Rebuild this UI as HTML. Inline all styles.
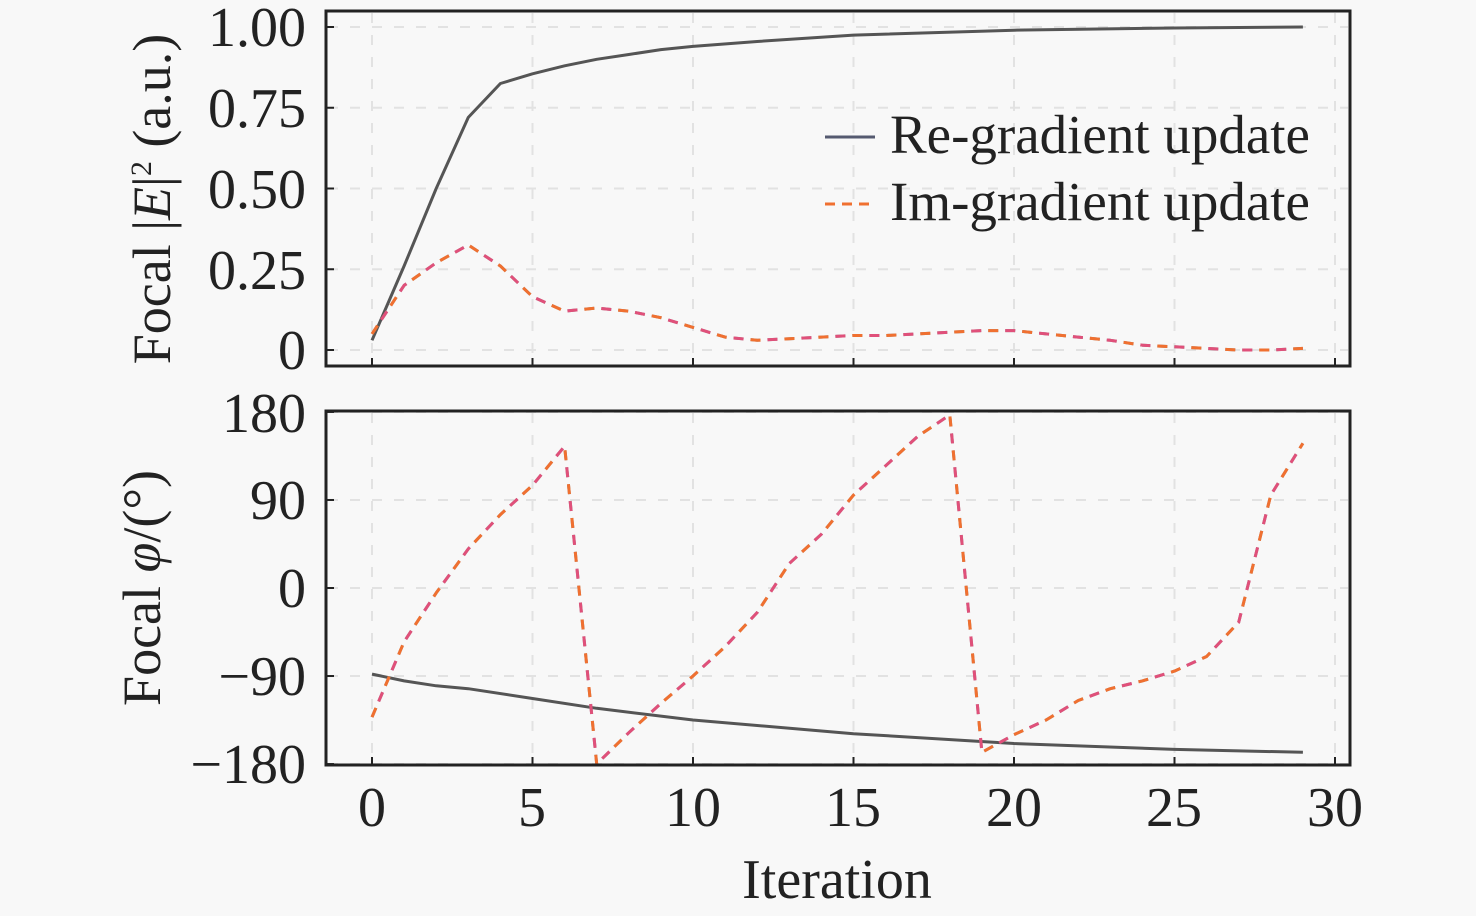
<!DOCTYPE html>
<html><head><meta charset="utf-8"><style>
html,body{margin:0;padding:0;background:#f8f8f8;}
svg{display:block;font-family:"Liberation Serif",serif;}
</style></head><body>
<svg id="s" width="1476" height="916" viewBox="0 0 1476 916" xmlns="http://www.w3.org/2000/svg">
<rect width="1476" height="916" fill="#f8f8f8"/>
<g id="grid" stroke="#e2e2e2" stroke-width="2" stroke-dasharray="10 12" fill="none"></g>
<g id="lines" fill="none" stroke-linejoin="round"></g>
<rect x="326" y="11" width="1024" height="355" fill="none" stroke="#222" stroke-width="3"/>
<rect x="326" y="411" width="1024" height="354" fill="none" stroke="#222" stroke-width="3"/>
<g id="ticks" stroke="#222" stroke-width="2"></g>
<g font-size="56" fill="#222" text-anchor="end">
<text x="306" y="46">1.00</text>
<text x="306" y="127">0.75</text>
<text x="306" y="208">0.50</text>
<text x="306" y="289">0.25</text>
<text x="306" y="369">0</text>
<text x="306" y="432">180</text>
<text x="306" y="519">90</text>
<text x="306" y="607">0</text>
<text x="306" y="695">−90</text>
<text x="306" y="783">−180</text>
</g>
<g font-size="56" fill="#222" text-anchor="middle">
<text x="372" y="826">0</text>
<text x="532" y="826">5</text>
<text x="693" y="826">10</text>
<text x="853" y="826">15</text>
<text x="1014" y="826">20</text>
<text x="1174" y="826">25</text>
<text x="1335" y="826">30</text>
<text x="837" y="898">Iteration</text>
</g>
<text font-size="54" fill="#222" text-anchor="middle" transform="translate(170,199) rotate(-90)">Focal |<tspan font-style="italic">E</tspan>|<tspan font-size="30" dy="-19">2</tspan><tspan dy="19"> (a.u.)</tspan></text>
<text font-size="54" fill="#222" text-anchor="middle" transform="translate(160,588) rotate(-90)">Focal <tspan font-style="italic">φ</tspan>/(°)</text>
<line x1="825" y1="137" x2="875" y2="137" stroke="#555a70" stroke-width="3"/>
<line x1="825" y1="204" x2="875" y2="204" stroke="#f07030" stroke-width="3" stroke-dasharray="10 7"/>
<g font-size="55" fill="#222">
<text x="890" y="153">Re-gradient update</text>
<text x="890" y="220">Im-gradient update</text>
</g>
</svg>
<script>
var NS="http://www.w3.org/2000/svg";
function X(i){return 372+32.1*i;}
function YT(v){return 350-323*v;}
function YB(d){return 588-0.978*d;}
function el(p,t,a){var e=document.createElementNS(NS,t);for(var k in a)e.setAttribute(k,a[k]);p.appendChild(e);return e;}
var g=document.getElementById('grid'),tk=document.getElementById('ticks'),L=document.getElementById('lines');
[0,5,10,15,20,25,30].forEach(function(i){var x=X(i);
 el(g,'line',{x1:x,y1:13,x2:x,y2:364});el(g,'line',{x1:x,y1:413,x2:x,y2:763});
 el(tk,'line',{x1:x,y1:366,x2:x,y2:358});el(tk,'line',{x1:x,y1:765,x2:x,y2:757});});
[0,0.25,0.5,0.75,1].forEach(function(v){var y=YT(v);el(g,'line',{x1:328,y1:y,x2:1348,y2:y});el(tk,'line',{x1:326,y1:y,x2:334,y2:y});});
[-180,-90,0,90,180].forEach(function(v){var y=YB(v);el(g,'line',{x1:328,y1:y,x2:1348,y2:y});el(tk,'line',{x1:326,y1:y,x2:334,y2:y});});
function pts(d,f){return d.map(function(p){return X(p[0]).toFixed(1)+','+f(p[1]).toFixed(1);}).join(' ');}
var reA=[[0,0.03],[1,0.26],[2,0.5],[3,0.72],[4,0.825],[5,0.855],[6,0.88],[7,0.9],[8,0.915],[9,0.93],[10,0.94],[12,0.955],[15,0.975],[20,0.99],[25,0.997],[29,1.0]];
var imA=[0.05,0.2,0.27,0.325,0.26,0.165,0.12,0.13,0.12,0.1,0.07,0.04,0.03,0.035,0.04,0.045,0.045,0.05,0.055,0.06,0.06,0.05,0.04,0.03,0.015,0.01,0.005,0,0,0.005].map(function(v,i){return [i,v];});
var reP=[[0,-88],[1,-95],[2,-100],[3,-103],[5,-113],[7,-123],[10,-135],[15,-149],[20,-159],[25,-165],[29,-168]];
var imP=[-132,-55,-5,40,75,105,145,-180,-148,-118,-90,-60,-25,25,55,95,125,155,177,-168,-150,-135,-115,-103,-95,-85,-70,-35,95,148].map(function(v,i){return [i,v];});
function dashed(d,f){var p=pts(d,f);
 el(L,'polyline',{points:p,stroke:'#8a8a8a',"stroke-width":3,"stroke-dasharray":"10 7"});
 el(L,'polyline',{points:p,stroke:'#f07030',"stroke-width":3,"stroke-dasharray":"10 24","stroke-dashoffset":"0"});
 el(L,'polyline',{points:p,stroke:'#e0507a',"stroke-width":3,"stroke-dasharray":"10 24","stroke-dashoffset":"-17"});}
el(L,'polyline',{points:pts(reA,YT),stroke:'#555',"stroke-width":3});
dashed(imA,YT);
el(L,'polyline',{points:pts(reP,YB),stroke:'#555',"stroke-width":3});
dashed(imP,YB);
</script>
</body></html>
